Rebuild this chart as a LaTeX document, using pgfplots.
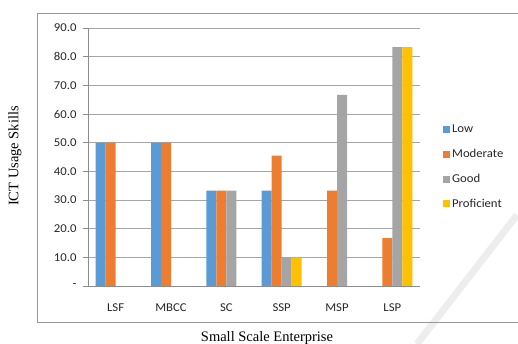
\documentclass[border=0pt]{standalone}
\usepackage{pgfplots}
\pgfplotsset{compat=1.18}
\usepackage{fontspec}
\setmainfont{Carlito}[FakeStretch=1.06]
\newfontfamily\serif{Liberation Serif}
\definecolor{cLow}{HTML}{5B9BD5}
\definecolor{cMod}{HTML}{ED7D31}
\definecolor{cGood}{HTML}{A5A5A5}
\definecolor{cProf}{HTML}{FFC000}
\begin{document}
\begin{tikzpicture}[x=1pt,y=1pt]
\useasboundingbox (0,0) rectangle (518,344);
\draw[line width=7pt, color=black!7] (517,129) -- (417,0);
\draw[color=black!40, line width=0.8pt] (530,331) -- (37,331) -- (37,22) -- (530,22);
\node[rotate=90, font=\serif\fontsize{14.5}{16}\selectfont] at (15,188) {ICT Usage Skills};
\node[font=\serif\fontsize{14.5}{16}\selectfont] at (267,6) {Small Scale Enterprise};
\begin{axis}[
  at={(88pt,58pt)}, anchor=south west,
  scale only axis, width=332pt, height=258pt,
  ybar=0pt, bar width=10pt,
  xmin=-0.5, xmax=5.5, ymin=0, ymax=90,
  ytick={0,10,...,90},
  yticklabels={-,10.0,20.0,30.0,40.0,50.0,60.0,70.0,80.0,90.0},
  xtick={0,...,5},
  xticklabels={LSF,MBCC,SC,SSP,MSP,LSP},
  x tick style={draw=none},
  extra x ticks={-0.5,0.5,...,5.5},
  extra x tick labels={},
  extra x tick style={major tick length=5pt, tick align=outside, grid=none, tick style={draw=black!45, line width=0.8pt}},
  y tick style={draw=black!45, line width=0.8pt},
  major tick length=5pt, tick align=outside,
  ymajorgrids, grid style={black!35, line width=0.8pt},
  axis x line*=bottom, axis y line*=left,
  axis line style={black!45, line width=0.8pt, -},
  tick label style={font=\fontsize{12}{14}\selectfont, text=black!85},
  yticklabel style={xshift=-3pt},
  xticklabel style={yshift=-9pt},
  legend style={at={(1.06,0.461)}, anchor=west, draw=none, fill=none,
    font=\fontsize{12}{14}\selectfont, row sep=11pt, text=black!85},
  legend cell align=left,
  legend image code/.code={\fill[#1] (0pt,-3.5pt) rectangle (7pt,3.5pt);},
]
\addplot[fill=cLow, draw=none] coordinates {(0,50) (1,50) (2,33.3) (3,33.3)};
\addplot[fill=cMod, draw=none] coordinates {(0,50) (1,50) (2,33.3) (3,45.5) (4,33.3) (5,16.7)};
\addplot[fill=cGood, draw=none] coordinates {(2,33.3) (3,10) (4,66.7) (5,83.3)};
\addplot[fill=cProf, draw=none] coordinates {(3,10) (5,83.3)};
\legend{Low,Moderate,Good,Proficient}
\end{axis}
\end{tikzpicture}
\end{document}
